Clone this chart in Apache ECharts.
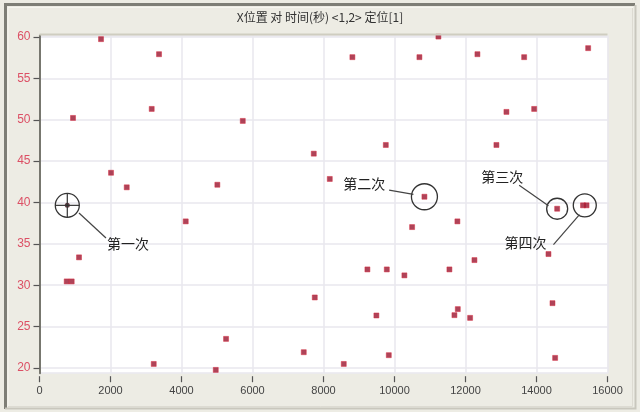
<!DOCTYPE html>
<html><head><meta charset="utf-8">
<script src="https://cdn.jsdelivr.net/npm/echarts@6/dist/echarts.min.js"></script>
<style>html,body{margin:0;padding:0;background:#edece4}#c{width:640px;height:412px}</style>
</head><body><div id="c"></div>
<script>
// ---- data ----
const chartTitle = 'X位置 对 时间(秒) <1,2> 定位[1]';
const timeSec = [1733, 3367, 3161, 944, 2015, 2457, 5010, 4119, 1113, 766, 907, 3218, 4965,
  8814, 10702, 5726, 9755, 7726, 8177, 10496, 9237, 9783, 10279, 7754, 9490, 5255, 7444, 9839, 8571,
  11237, 12336, 13652, 15455, 13153, 13934, 12871, 11772, 14337, 12252, 11547, 14450, 11783, 11688, 12130, 14525,
  10843, 14582, 15310, 15410];
const xPosition = [59.76, 57.94, 51.32, 50.23, 43.6, 41.84, 42.15, 37.72, 33.37, 30.46, 30.46, 20.48, 19.76,
  57.58, 57.58, 49.87, 46.96, 45.91, 42.85, 37.03, 31.91, 31.91, 31.19, 28.52, 26.34, 23.51, 21.9, 21.54, 20.48,
  60.07, 57.94, 57.58, 58.67, 50.96, 51.32, 46.96, 37.72, 33.77, 33.04, 31.91, 27.83, 27.11, 26.38, 26.05, 21.21,
  40.7, 39.25, 39.66, 39.66];
const cursorTime = [783];
const cursorPos = [39.66];
const markTime = [783, 10843, 14582, 15360];
const markPos = [39.66, 40.7, 39.25, 39.66];
const markLabel = ['第一次', '第二次', '第三次', '第四次'];
const xMin = 0, xMax = 16000, xStep = 2000;
const yMin = 19.36, yMax = 60.2;

// ---- layout / style ----
const annotLayout = [
  {r: 12,   line: [[11.7, 7.7], [38.7, 32.7]],   text: [39.7, 38],    align: 'left',  cross: true},
  {r: 13,   line: [[-35.3, -6.7], [-11, -2.4]],  text: [-39.3, -12.7], align: 'right'},
  {r: 10.5, line: [[-38, -23.4], [-8.7, -3]],    text: [-34, -31.7],  align: 'right'},
  {r: 11.5, line: [[-31.3, 39.2], [-5.3, 9.2]],  text: [-38.3, 37.2], align: 'right'}
];

const chart = echarts.init(document.getElementById('c'), null, {renderer: 'canvas', width: 640, height: 412});

const frame = [
  {type: 'polyline', z: 100, shape: {points: [[5.5, 409], [5.5, 4.5], [635, 4.5]]}, style: {fill: 'none', stroke: '#7e7e76', lineWidth: 3}},
  {type: 'polyline', z: 100, shape: {points: [[635.5, 5], [635.5, 408.5], [5, 408.5]]}, style: {fill: 'none', stroke: '#c9c7bd', lineWidth: 2}},
  {type: 'polyline', z: 100, shape: {points: [[8, 407], [8, 7.5], [633, 7.5]]}, style: {fill: 'none', stroke: '#f7f6f0', lineWidth: 1}},
  {type: 'polyline', z: 100, shape: {points: [[632.5, 8], [632.5, 406.5], [8, 406.5]]}, style: {fill: 'none', stroke: '#dddbd2', lineWidth: 1}}
];

const option = {
  backgroundColor: '#edece4',
  animation: false,
  title: {
    text: chartTitle, left: 'center', top: 11, padding: 0,
    textStyle: {fontSize: 12, fontWeight: 'normal', color: '#333', fontFamily: '"Noto Sans CJK SC", sans-serif'}
  },
  grid: {left: 39.5, right: 32.5, top: 35.5, bottom: 38.8, show: true, backgroundColor: '#ffffff', borderWidth: 0},
  xAxis: {
    type: 'value', min: xMin, max: xMax, interval: xStep, offset: 3,
    axisLine: {show: false},
    axisTick: {show: true, length: 6, lineStyle: {color: '#555', width: 1.2}},
    axisLabel: {margin: 9, fontSize: 11, color: '#444', fontFamily: '"Liberation Sans", sans-serif',
      formatter: v => String(v)},
    splitLine: {show: true, lineStyle: {color: '#e8e7ee', width: 1.5}}
  },
  yAxis: {
    type: 'value', min: yMin, max: yMax, splitNumber: 8,
    axisLine: {show: true, lineStyle: {color: '#77776f', width: 2}},
    axisTick: {show: true, length: 6, lineStyle: {color: '#555', width: 1.2}},
    axisLabel: {margin: 9, fontSize: 12, color: '#dc5065', fontFamily: '"Liberation Sans", sans-serif',
      showMinLabel: false, showMaxLabel: false,
      formatter: v => (Math.abs(v % 5) < 1e-6 ? String(v) : '')},
    splitLine: {show: true, lineStyle: {color: '#e8e7ee', width: 1.5}}
  },
  series: [
    {
      type: 'scatter', clip: false, symbol: 'rect', symbolSize: 5,
      itemStyle: {color: '#9a1530', borderColor: '#d8283a', borderWidth: 0.6},
      data: timeSec.map((t, i) => [t, xPosition[i]])
    },
    {
      type: 'scatter', clip: false, symbol: 'circle', symbolSize: 5, z: 5,
      itemStyle: {color: '#3a0a14'},
      data: cursorTime.map((t, i) => [t, cursorPos[i]])
    }
  ],
  graphic: frame
};
chart.setOption(option);

const annot = [];
// thin border line along the top of the plot area
const tl = chart.convertToPixel({gridIndex: 0}, [xMin, yMax]);
const tr = chart.convertToPixel({gridIndex: 0}, [xMax, yMax]);
annot.push({type: 'line', z: 40, shape: {x1: tl[0], y1: tl[1] - 1, x2: tr[0], y2: tr[1] - 1}, style: {stroke: '#cfcdc0', lineWidth: 2}});

markTime.forEach((t, i) => {
  const p = chart.convertToPixel({gridIndex: 0}, [t, markPos[i]]);
  const L = annotLayout[i];
  annot.push({type: 'circle', z: 50, shape: {cx: p[0], cy: p[1], r: L.r}, style: {fill: 'none', stroke: '#333', lineWidth: 1.3}});
  annot.push({type: 'line', z: 50, shape: {x1: p[0] + L.line[0][0], y1: p[1] + L.line[0][1], x2: p[0] + L.line[1][0], y2: p[1] + L.line[1][1]},
    style: {stroke: '#444', lineWidth: 1.2}});
  annot.push({type: 'text', z: 50, x: p[0] + L.text[0], y: p[1] + L.text[1],
    style: {text: markLabel[i], font: '14px "Noto Sans CJK SC"', fill: '#222', align: L.align, verticalAlign: 'middle'}});
  if (L.cross) {
    annot.push({type: 'line', z: 49, shape: {x1: p[0] - L.r, y1: p[1], x2: p[0] + L.r, y2: p[1]}, style: {stroke: '#333', lineWidth: 1.2}});
    annot.push({type: 'line', z: 49, shape: {x1: p[0], y1: p[1] - L.r, x2: p[0], y2: p[1] + L.r}, style: {stroke: '#333', lineWidth: 1.2}});
  }
});
chart.setOption({graphic: frame.concat(annot)});
</script></body></html>
